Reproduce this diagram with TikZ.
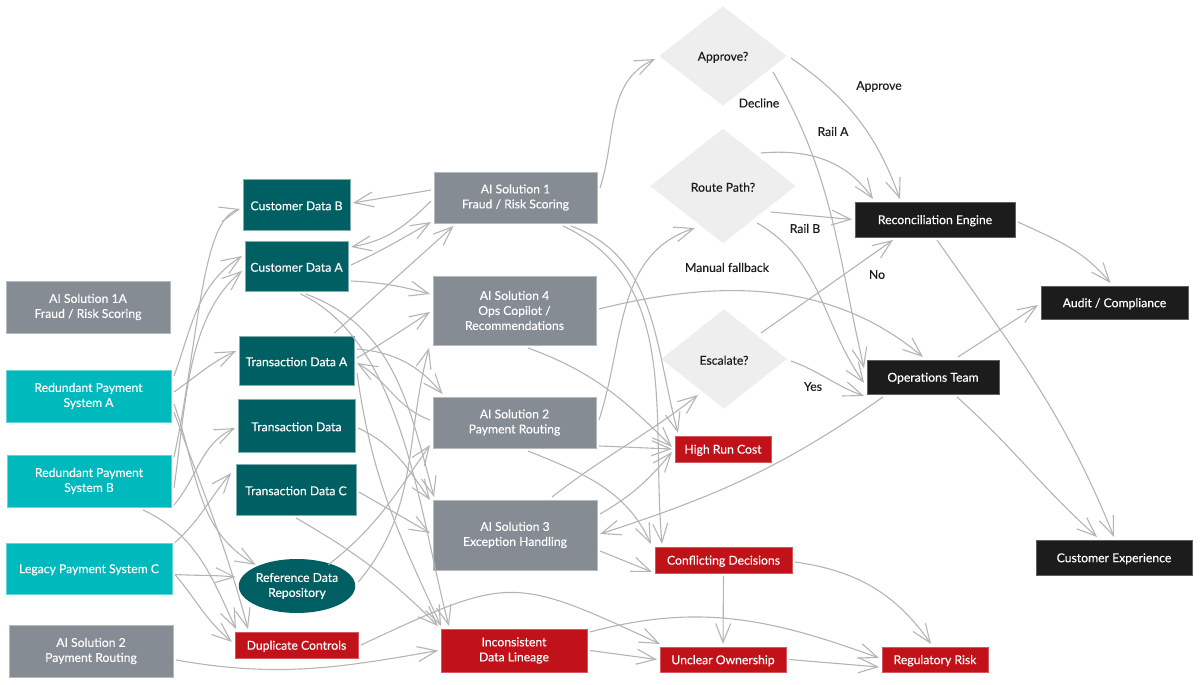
\documentclass[tikz,border=0pt]{standalone}
\usepackage{fontspec}
\setmainfont{Lato}[FakeBold=0.2]
\usetikzlibrary{arrows.meta,shapes.geometric}
\definecolor{cyanbox}{HTML}{00B9BC}
\definecolor{tealbox}{HTML}{005F63}
\definecolor{graybox}{HTML}{868C94}
\definecolor{redbox}{HTML}{C1121A}
\definecolor{darkbox}{HTML}{1C1C1C}
\definecolor{diabox}{HTML}{EEEEEE}
\definecolor{flowline}{HTML}{B4B4B4}
\tikzset{
  x=1pt,y=1pt,
  flow/.style={draw=flowline,line width=1.1pt,-{Straight Barb[length=19pt,width=15pt]}},
  lowtext/.style={font=\fontsize{12.2}{15}\selectfont,execute at begin node={\rule{0pt}{11.5pt}}},
  box/.style={rectangle,text=white,lowtext,align=center,inner sep=0pt,outer sep=3pt},
  srcbox/.style={box,fill=cyanbox,draw=cyanbox!60!white,line width=.6pt},
  aibox/.style={box,fill=graybox,draw=graybox!60!white,line width=.6pt},
  databox/.style={box,fill=tealbox,draw=tealbox!50!white,line width=.6pt},
  riskbox/.style={box,fill=redbox,draw=redbox!70!white,line width=.6pt},
  endbox/.style={box,fill=darkbox,draw=darkbox!70!white,line width=.6pt},
  ask/.style={diamond,aspect=1.25,fill=diabox,text=darkbox,lowtext,inner sep=0pt,outer sep=3pt},
  tag/.style={text=darkbox,font=\fontsize{12.2}{15}\selectfont,inner sep=0pt},
}
\newcommand{\boxnode}[6]{\node[#1,minimum width=#5,minimum height=#6] (#2) at #3 {#4};}
\begin{document}
\begin{tikzpicture}
\useasboundingbox (0,0) rectangle (1200,685);
\begin{scope}[shift={(0,685)},y=-1pt]
% sources
\boxnode{aibox}{aiOneA}{(88,307)}{AI Solution 1A\\Fraud / Risk Scoring}{164}{52}
\boxnode{srcbox}{redA}{(88.5,396)}{Redundant Payment\\System A}{165}{52}
\boxnode{srcbox}{redB}{(89,481)}{Redundant Payment\\System B}{164}{52}
\boxnode{srcbox}{legacyC}{(89,568.5)}{Legacy Payment System C}{166}{51}
\boxnode{aibox}{aiTwoL}{(91,651)}{AI Solution 2\\Payment Routing}{164}{52}
% data
\boxnode{databox}{custB}{(296.5,204.5)}{Customer Data B}{107}{51}
\boxnode{databox}{custA}{(296.5,266)}{Customer Data A}{103}{50}
\boxnode{databox}{txnA}{(296.5,360.5)}{Transaction Data A}{115}{49}
\boxnode{databox}{txnData}{(296.5,425.5)}{Transaction Data}{117}{53}
\boxnode{databox}{txnC}{(296,489.5)}{Transaction Data C}{120}{51}
\node[box,ellipse,fill=tealbox,minimum width=114,minimum height=54] (refData) at (297,586) {Reference Data\\Repository};
\boxnode{riskbox}{dupCtl}{(296.5,645)}{Duplicate Controls}{123}{26}
% ai solutions
\boxnode{aibox}{aiOne}{(515.5,197.5)}{AI Solution 1\\Fraud / Risk Scoring}{163}{51}
\boxnode{aibox}{aiFour}{(514.5,310.5)}{AI Solution 4\\Ops Copilot /\\Recommendations}{163}{69}
\boxnode{aibox}{aiTwo}{(514.5,422.5)}{AI Solution 2\\Payment Routing}{163}{51}
\boxnode{aibox}{aiThree}{(515,535)}{AI Solution 3\\Exception Handling}{164}{70}
% risks
\boxnode{riskbox}{highCost}{(723,449)}{High Run Cost}{96}{26}
\boxnode{riskbox}{conflict}{(723.5,560)}{Conflicting Decisions}{137}{26}
\boxnode{riskbox}{incons}{(514,650.5)}{Inconsistent\\Data Lineage}{146}{43}
\boxnode{riskbox}{unclear}{(723,659.5)}{Unclear Ownership}{126}{25}
\boxnode{riskbox}{regRisk}{(935,659.5)}{Regulatory Risk}{106}{25}
% decisions
\node[ask,minimum width=130,minimum height=102] (approve) at (723,56) {Approve?};
\node[ask,minimum width=148,minimum height=117] (route) at (723,186) {Route Path?};
\node[ask,minimum width=128,minimum height=102] (escalate) at (724,359) {Escalate?};
% outcomes
\boxnode{endbox}{recon}{(935,219.5)}{Reconciliation Engine}{160}{35}
\boxnode{endbox}{audit}{(1114.5,302.5)}{Audit / Compliance}{147}{33}
\boxnode{endbox}{opsTeam}{(933,377)}{Operations Team}{132}{34}
\boxnode{endbox}{custExp}{(1114,557.5)}{Customer Experience}{156}{35}
% labels
\node[tag] (tagApprove) at (879,86.5) {Approve};
\node[tag] (tagDecline) at (759,103) {Decline};
\node[tag] (tagRailA) at (833,131.5) {Rail A};
\node[tag] (tagRailB) at (805,228.5) {Rail B};
\node[tag] (tagManual) at (727,267.5) {Manual fallback};
\node[tag] (tagNo) at (877,274.5) {No};
\node[tag] (tagYes) at (813,386.5) {Yes};
\end{scope}
% sources to data
\draw[flow] ([yshift=20]redA.east) to[out=70,in=213] ([yshift=10]custA.west);
\draw[flow] ([yshift=24]redB.east) to[out=78,in=195,out looseness=1.2,in looseness=.4] ([yshift=-4.5]custB.west);
\draw[flow] ([yshift=-7]redB.east) to[out=82,in=220,in looseness=.8] ([yshift=-5]custA.west);
\draw[flow] ([yshift=4]redA.east) to[out=35,in=205] ([yshift=9.5]txnA.west);
\draw[flow] ([yshift=-8]redA.east) to[out=-70,in=150] ([xshift=2]refData.north west);
\draw[flow] ([yshift=-16]redA.east) to[out=-70,in=105] ([xshift=-48.5]dupCtl.north);
\draw[flow] ([yshift=-24]redB.east) to[out=50,in=205] ([yshift=-2.5]txnData.west);
\draw[flow] ([yshift=26]legacyC.east) to[out=42,in=230] ([yshift=16.5,xshift=-2]txnC.west);
\draw[flow] ([xshift=54]redB.south) to[out=-25,in=115] ([xshift=-60.5]dupCtl.north);
\draw[flow] ([yshift=-6]legacyC.east) to[out=-3,in=175] ([yshift=9]refData.west);
\draw[flow] ([yshift=-6]legacyC.east) to[out=-50,in=140] ([yshift=3]dupCtl.west);
\draw[flow] ([yshift=-9]aiTwoL.east) to[out=-10,in=190] (incons.west);
\draw[flow] (dupCtl.east) to[out=25,in=155,looseness=1.4] ([xshift=-63]unclear.north);
% data to inconsistent lineage
\draw[flow] (txnC.south) to[out=-30,in=135] ([xshift=-76]incons.north);
\draw[flow] ([yshift=-12.5]txnA.east) to[out=-82,in=115] ([xshift=-73]incons.north);
\draw[flow] ([xshift=4]custA.south) to[out=-25,in=105,looseness=.8] ([xshift=-65]incons.north);
\draw[flow] ([xshift=9]custA.south) to[out=-20,in=105] ([xshift=-81]aiThree.north);
% data and ai solutions
\draw[flow] ([yshift=2.5]aiTwo.west) to[out=160,in=-30] ([yshift=-2.5]txnA.east);
\draw[flow] ([yshift=2.5]txnA.east) to[out=30,in=213] ([yshift=-1.5]aiFour.west);
\draw[flow] ([yshift=11.5]txnA.east) to[out=-5,in=130] ([xshift=-72]aiTwo.north);
\draw[flow] ([xshift=38]txnA.north) -- ([xshift=-62]aiOne.south);
\draw[flow] ([yshift=1]custA.east) to[out=25,in=210] ([yshift=-24.5]aiOne.west);
\draw[flow] ([yshift=-3.5]aiOne.west) to[out=225,in=10] ([yshift=19]custA.east);
\draw[flow] ([yshift=7.5]aiOne.west) to[out=190,in=10] ([yshift=1.5]custB.east);
\draw[flow] ([yshift=-15]custA.east) to[out=-3,in=165] ([yshift=16.5]aiFour.west);
\draw[flow] ([yshift=-2.5]txnData.east) to[out=-25,in=125] ([yshift=35]aiThree.west);
\draw[flow] ([yshift=-2.5]txnC.east) -- ([yshift=2]aiThree.west);
\draw[flow] ([xshift=-12]refData.north east) to[out=38,in=235] ([yshift=-22.5]aiTwo.west);
\draw[flow] ([yshift=4]refData.east) to[out=50,in=255] ([xshift=-85.5]aiFour.south);
% ai solutions onward
\draw[flow] ([yshift=9.5]aiOne.east) to[out=72,in=205] ([yshift=-3]approve.west);
\draw[flow] ([xshift=55.5]aiOne.south) to[out=-20,in=105] ([xshift=-45]highCost.north);
\draw[flow] ([xshift=47.5]aiOne.south) to[out=-25,in=95] ([xshift=-61.5]conflict.north);
\draw[flow] ([xshift=13.5]aiFour.south) to[out=-20,in=135] ([yshift=2]highCost.west);
\draw[flow] ([yshift=1.5]aiFour.east) to[out=14,in=140,looseness=.95] ([xshift=-10]opsTeam.north);
\draw[flow] ([yshift=2.5]aiTwo.east) to[out=72,in=198] ([xshift=-28,yshift=-42]route.center);
\draw[flow] ([yshift=-23.5]aiTwo.east) to[out=-2,in=178] (highCost.west);
\draw[flow] ([xshift=13.5]aiTwo.south) to[out=-22,in=115] ([xshift=-72.5]conflict.north);
\draw[flow] ([xshift=37]aiThree.north) to[out=38,in=218] ([xshift=-26,yshift=-36]escalate.center);
\draw[flow] ([yshift=21]aiThree.east) to[out=30,in=230] ([yshift=-3]highCost.west);
\draw[flow] ([yshift=-16]aiThree.east) -- ([yshift=-12]conflict.west);
\draw[flow] ([xshift=-50]opsTeam.south) to[out=215,in=18] ([yshift=1]aiThree.east);
% risks
\draw[flow] (conflict.south) -- (unclear.north);
\draw[flow] ([yshift=-2]conflict.east) to[out=-8,in=125] ([xshift=-4]regRisk.north);
\draw[flow] (incons.east) -- (unclear.west);
\draw[flow] ([yshift=18.5]incons.east) to[out=15,in=160] ([yshift=1.5]regRisk.west);
\draw[flow] (unclear.east) -- ([yshift=-7.5]regRisk.west);
% decisions to outcomes
\draw[flow] ([yshift=-2]approve.east) to[out=-35,in=110] ([xshift=-35]recon.north);
\draw[flow] ([xshift=50,yshift=-16]approve.center) to[out=-60,in=103] ([yshift=9]opsTeam.west);
\draw[flow] ([xshift=38,yshift=33]route.center) to[out=5,in=125] ([xshift=-62]recon.north);
\draw[flow] ([xshift=48,yshift=-26]route.center) -- (recon.west);
\draw[flow] ([xshift=34,yshift=-37]route.center) to[out=-30,in=125] ([yshift=-6]opsTeam.west);
\draw[flow] ([xshift=37,yshift=26]escalate.center) -- ([xshift=-42]recon.south);
\draw[flow] ([yshift=-2]escalate.east) to[out=-20,in=160] ([yshift=-19]opsTeam.west);
\draw[flow] ([yshift=-2.5]recon.east) to[out=-25,in=130] ([xshift=-4]audit.north);
\draw[flow] ([xshift=2]recon.south) to[out=-55,in=112] (custExp.north);
\draw[flow] ([xshift=25]opsTeam.north) -- ([yshift=-2.5]audit.west);
\draw[flow] ([xshift=24]opsTeam.south) to[out=-42,in=138] ([xshift=-17]custExp.north);
\end{tikzpicture}
\end{document}
